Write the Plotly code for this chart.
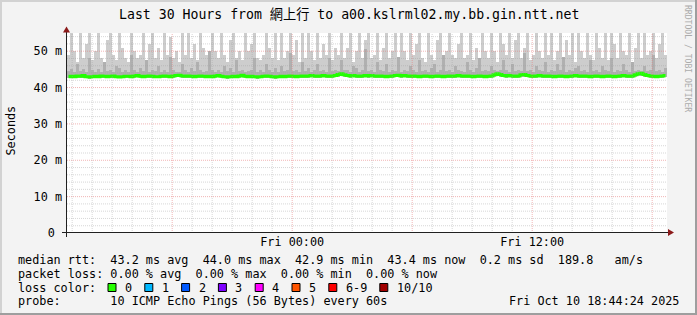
import pandas as pd
import plotly.graph_objects as go

# ---------------- data ----------------
title_text = "Last 30 Hours from 網上行 to a00.kslrml02.my.bb.gin.ntt.net"
end_time = "2025-10-10 18:44:24"
span_hours = 30

# upper edge of the light smoke (ms), 200 bins over 30 h
smoke_max = [
    49, 55, 50, 47, 55, 48, 52, 55, 47.5, 50,
    55, 48, 47, 53, 55, 49, 47.5, 55, 51, 48,
    47, 55, 50, 48, 49, 55, 47.5, 52, 55, 48,
    51, 47.5, 55, 49, 54, 48, 50, 47, 55, 49,
    55, 48, 52, 47.5, 55, 51, 49, 48, 55, 50,
    48, 55, 49, 47, 53, 55, 48, 50, 47.5, 55,
    50, 52, 55, 48, 47.5, 49, 55, 51, 48, 55,
    47.5, 55, 48, 50, 55, 49, 53, 47, 55, 48,
    55, 50, 47.5, 55, 48, 52, 49, 55, 47.5, 51,
    49, 55, 48, 51, 55, 47, 50, 55, 48, 53,
    55, 48, 49, 55, 47.5, 51, 55, 48, 50, 55,
    48, 55, 50, 47.5, 55, 49, 52, 55, 48, 47,
    55, 49, 47.5, 53, 55, 48, 50, 55, 49, 48,
    52, 55, 48, 49, 55, 47.5, 51, 48, 55, 50,
    48, 55, 50, 47, 55, 52, 49, 55, 48, 53,
    55, 48, 51, 55, 47.5, 49, 55, 50, 48, 55,
    49, 55, 47.5, 50, 55, 48, 53, 49, 55, 47,
    55, 50, 48, 55, 49, 47.5, 55, 51, 48, 55,
    47.5, 55, 52, 48, 55, 50, 49, 55, 47, 51,
    55, 48, 55, 49, 50, 55, 48, 52, 55, 49,
]
# upper edge of the darker inner smoke (ms)
smoke_mid = [
    44.5, 45.0, 44.2, 46.5, 44.6, 45.2, 44.3, 48.0, 44.8, 44.4,
    45.0, 44.3, 47.0, 44.5, 44.9, 44.2, 46.0, 45.3, 44.4, 44.8,
    44.4, 49.0, 44.8, 44.2, 45.4, 44.5, 47.5, 44.3, 44.9, 44.5,
    46.0, 44.4, 44.8, 44.2, 48.5, 44.9, 44.4, 44.2, 46.5, 44.8,
    44.2, 45.4, 44.5, 47.0, 44.9, 44.3, 44.5, 50.0, 44.8, 44.4,
    44.9, 44.2, 46.0, 44.5, 45.3, 44.2, 47.5, 44.5, 44.9, 44.3,
    44.5, 44.9, 48.0, 44.2, 44.9, 44.4, 46.5, 44.9, 44.3, 45.4,
    44.2, 46.0, 44.5, 44.9, 49.5, 44.5, 44.9, 44.2, 47.0, 44.5,
    45.4, 44.3, 44.9, 46.5, 44.5, 44.9, 44.2, 48.0, 44.5, 44.9,
    44.6, 47.5, 44.8, 44.9, 44.3, 46.0, 45.4, 44.3, 44.9, 50.5,
    44.5, 44.9, 44.2, 47.0, 44.9, 44.5, 46.5, 44.2, 44.9, 44.5,
    48.5, 44.2, 44.9, 44.5, 46.0, 44.9, 44.3, 47.5, 44.5, 44.9,
    44.2, 45.4, 46.5, 44.3, 44.9, 49.0, 44.5, 44.9, 44.2, 46.0,
    44.9, 44.5, 44.2, 47.0, 44.9, 44.3, 45.4, 48.0, 44.5, 44.9,
    44.5, 46.0, 44.9, 44.6, 44.7, 47.5, 44.9, 44.3, 46.5, 44.5,
    44.9, 44.6, 49.5, 44.5, 44.9, 44.2, 46.0, 44.9, 44.5, 47.0,
    44.2, 44.9, 44.5, 46.5, 44.9, 48.5, 44.3, 44.9, 44.5, 45.4,
    46.0, 44.5, 44.9, 44.2, 47.5, 44.5, 44.9, 44.3, 46.0, 44.9,
    44.5, 48.0, 44.2, 44.9, 44.5, 46.5, 44.9, 44.3, 47.0, 44.5,
    44.9, 44.6, 46.0, 44.5, 44.9, 49.0, 44.5, 44.9, 44.2, 45.4,
]
# lower edge of the smoke (ms)
smoke_min = [
    42.6, 42.5, 42.6, 42.7, 42.6, 42.5, 42.6, 42.4, 42.5, 42.6,
    42.6, 42.5, 42.7, 42.6, 42.6, 42.5, 42.6, 42.7, 42.6, 42.5,
    42.6, 42.6, 42.7, 42.8, 42.6, 42.5, 42.6, 42.7, 42.6, 42.5,
    42.5, 42.6, 42.7, 42.6, 42.5, 42.7, 42.8, 42.8, 42.7, 42.6,
    42.7, 42.6, 42.5, 42.6, 42.7, 42.6, 42.5, 42.6, 42.5, 42.7,
    42.8, 42.6, 42.5, 42.4, 42.5, 42.6, 42.5, 42.7, 42.8, 42.6,
    42.5, 42.6, 42.5, 42.4, 42.5, 42.6, 42.7, 42.6, 42.5, 42.4,
    42.5, 42.6, 42.5, 42.6, 42.7, 42.6, 42.5, 42.6, 42.7, 42.6,
    42.7, 42.8, 42.7, 42.6, 42.7, 42.8, 42.7, 42.6, 42.7, 42.8,
    43.0, 43.1, 42.9, 42.8, 42.7, 42.8, 42.7, 42.6, 42.7, 42.8,
    42.7, 42.8, 42.7, 42.6, 42.7, 42.6, 42.5, 42.6, 42.7, 42.8,
    42.9, 42.7, 42.8, 42.7, 42.6, 42.7, 42.6, 42.5, 42.6, 42.7,
    42.6, 42.5, 42.6, 42.7, 42.6, 42.5, 42.6, 42.7, 42.6, 42.7,
    42.8, 42.7, 42.6, 42.7, 42.6, 42.5, 42.6, 42.7, 42.6, 42.5,
    42.6, 42.7, 42.9, 43.1, 43.0, 42.8, 42.7, 42.8, 42.7, 42.6,
    42.7, 42.9, 43.0, 42.8, 42.7, 42.6, 42.7, 42.8, 42.7, 42.6,
    42.7, 42.6, 42.5, 42.6, 42.7, 42.6, 42.5, 42.6, 42.7, 42.8,
    42.7, 42.6, 42.7, 42.6, 42.5, 42.6, 42.7, 42.6, 42.5, 42.6,
    42.7, 42.6, 42.5, 42.6, 42.7, 42.8, 42.7, 42.6, 42.7, 42.9,
    43.1, 43.2, 43.0, 42.8, 42.7, 42.6, 42.5, 42.6, 42.7, 42.8,
]
# median round trip time (ms)
median_rtt = [
    43.0, 43.1, 43.0, 43.2, 43.1, 43.3, 43.0, 42.9, 43.0, 43.1,
    43.0, 43.2, 43.1, 43.0, 43.1, 43.2, 43.0, 42.9, 43.0, 43.1,
    43.1, 43.0, 43.2, 43.3, 43.1, 43.0, 43.1, 43.2, 43.1, 43.0,
    43.0, 43.1, 43.2, 43.1, 43.0, 43.2, 43.3, 43.4, 43.2, 43.1,
    43.2, 43.1, 43.0, 43.1, 43.2, 43.1, 43.0, 43.1, 43.0, 43.2,
    43.3, 43.1, 43.0, 42.9, 43.0, 43.1, 43.0, 43.2, 43.4, 43.1,
    43.0, 43.1, 43.0, 42.9, 43.0, 43.1, 43.2, 43.1, 43.0, 42.9,
    43.0, 43.1, 43.0, 43.1, 43.2, 43.1, 43.0, 43.1, 43.2, 43.1,
    43.2, 43.3, 43.2, 43.1, 43.2, 43.3, 43.2, 43.1, 43.2, 43.3,
    43.6, 43.8, 43.5, 43.3, 43.2, 43.3, 43.2, 43.1, 43.2, 43.3,
    43.2, 43.3, 43.2, 43.1, 43.2, 43.1, 43.0, 43.1, 43.2, 43.3,
    43.4, 43.2, 43.3, 43.2, 43.1, 43.2, 43.1, 43.0, 43.1, 43.2,
    43.1, 43.0, 43.1, 43.2, 43.1, 43.0, 43.1, 43.2, 43.1, 43.2,
    43.3, 43.2, 43.1, 43.2, 43.1, 43.0, 43.1, 43.2, 43.1, 43.0,
    43.1, 43.2, 43.5, 43.8, 43.6, 43.3, 43.2, 43.3, 43.2, 43.1,
    43.2, 43.5, 43.6, 43.3, 43.2, 43.1, 43.2, 43.3, 43.2, 43.1,
    43.2, 43.1, 43.0, 43.1, 43.2, 43.1, 43.0, 43.1, 43.2, 43.3,
    43.2, 43.1, 43.2, 43.1, 43.0, 43.1, 43.2, 43.1, 43.0, 43.1,
    43.2, 43.1, 43.0, 43.1, 43.2, 43.3, 43.2, 43.1, 43.2, 43.5,
    43.8, 43.9, 43.6, 43.3, 43.2, 43.1, 43.0, 43.1, 43.2, 43.3,
]

y_tick_vals = [0, 10, 20, 30, 40, 50]
y_tick_text = ["0\u00a0", "10 m", "20 m", "30 m", "40 m", "50 m"]
x_tick_vals = ["2025-10-09 18:00", "2025-10-10 00:00", "2025-10-10 06:00", "2025-10-10 12:00"]
x_tick_text = ["", "Fri 00:00", "", "Fri 12:00"]

rtt_stats = [43.2, 44.0, 42.9, 43.4]      # avg, max, min, now
rtt_sd = 0.2
rtt_ams = 189.8
loss_stats = [0.00, 0.00, 0.00, 0.00]     # avg, max, min, now
loss_labels = ["0", "1", "2", "3", "4", "5", "6-9", "10/10"]
loss_colors = ["#26ff00", "#00b8ff", "#0059ff", "#7e00ff", "#ff00ff", "#ff5500", "#ff0000", "#a10000"]
probe_text = "10 ICMP Echo Pings (56 Bytes) every 60s"
stamp_text = "Fri Oct 10 18:44:24 2025"
watermark = "RRDTOOL / TOBI OETIKER"

# ---------------- geometry helpers ----------------
W, H = 697, 315
L, T, PW, PH = 67, 33, 600, 200
R, B = W - L - PW, H - T - PH


def px(x):
    return (x - L) / PW


def py(y):
    return (T + PH - y) / PH


MONO = "DejaVu Sans Mono"
FS = 11.8
CW = 7.1  # char advance at FS

end = pd.Timestamp(end_time)
start = end - pd.Timedelta(hours=span_hours)
n = len(smoke_max)
bin_w = (end - start) / n
centers = [start + bin_w * (i + 0.5) for i in range(n)]
bin_ms = bin_w.total_seconds() * 1000

fig = go.Figure()
fig.add_trace(go.Bar(
    x=centers, y=[a - b for a, b in zip(smoke_max, smoke_min)], base=smoke_min,
    width=bin_ms, marker=dict(color="#cdcdcd", line=dict(width=0)), hoverinfo="skip"))
fig.add_trace(go.Bar(
    x=centers, y=[a - b for a, b in zip(smoke_mid, smoke_min)], base=smoke_min,
    width=bin_ms, marker=dict(color="#b0b0b0", line=dict(width=0)), hoverinfo="skip"))
fig.add_trace(go.Scatter(
    x=centers, y=median_rtt, mode="lines",
    line=dict(color="#22ff00", width=3, shape="hvh"), hoverinfo="skip"))

shapes = []
# grid (drawn above the smoke, like rrdtool)
GRID = "rgba(160,160,160,0.42)"
MGRID = "rgba(228,120,120,0.55)"
for t in pd.date_range(start.ceil("h"), end, freq="h"):
    major = t.hour % 6 == 0
    shapes.append(dict(type="line", xref="x", yref="paper", x0=t, x1=t, y0=0, y1=1,
                       line=dict(color=MGRID if major else GRID, width=1, dash="1px,1px"),
                       layer="above"))
for v in range(2, 55, 2):
    major = v % 10 == 0
    shapes.append(dict(type="line", xref="paper", yref="y", x0=0, x1=1, y0=v, y1=v,
                       line=dict(color=MGRID if major else GRID, width=1, dash="1px,1px"),
                       layer="above"))
# axes
AX = "#202020"
shapes.append(dict(type="line", xref="paper", yref="paper", x0=px(62), x1=px(668),
                   y0=py(232.5), y1=py(232.5), line=dict(color=AX, width=1), layer="above"))
shapes.append(dict(type="line", xref="paper", yref="paper", x0=px(66.5), x1=px(66.5),
                   y0=py(237), y1=py(30), line=dict(color=AX, width=1), layer="above"))
ARW = "#8b1a1a"
shapes.append(dict(type="path", xref="paper", yref="paper", layer="above",
                   path=f"M{px(66.5)},{py(26.5)} L{px(63)},{py(32.5)} L{px(70)},{py(32.5)} Z",
                   fillcolor=ARW, line=dict(color=ARW, width=0)))
shapes.append(dict(type="path", xref="paper", yref="paper", layer="above",
                   path=f"M{px(674)},{py(232.5)} L{px(668)},{py(229)} L{px(668)},{py(236)} Z",
                   fillcolor=ARW, line=dict(color=ARW, width=0)))
# frame shading
for (x0, y0, x1, y1, c) in [(0, 0, W, 2, "#d2d2d2"), (0, 0, 2, H, "#d2d2d2"),
                            (0, H - 2, W, H, "#9e9e9e"), (W - 2, 0, W, H, "#9e9e9e")]:
    shapes.append(dict(type="rect", xref="paper", yref="paper", x0=px(x0), x1=px(x1),
                       y0=py(y1), y1=py(y0), fillcolor=c, line=dict(width=0), layer="above"))

annotations = []


def text(x, y, s, anchor="left", size=FS, color="#000", angle=0, family=MONO):
    annotations.append(dict(x=px(x), y=py(y), xref="paper", yref="paper", text=s.replace(" ", "\u00a0"),
                            showarrow=False, xanchor=anchor, yanchor="middle", textangle=angle,
                            font=dict(family=family, size=size, color=color)))


text(348.5, 15, title_text, anchor="center", size=13.2,
     family="DejaVu Sans Mono, Noto Sans CJK TC")
text(10.5, 131, "Seconds", anchor="center", angle=-90)
text(688, 58, watermark, anchor="center", size=8.1, color="#ababab", angle=90)

a, mx, mn, nw = rtt_stats
row1 = (f"median rtt:  {a:.1f} ms avg  {mx:.1f} ms max  {mn:.1f} ms min  "
        f"{nw:.1f} ms now  {rtt_sd:.1f} ms sd  {rtt_ams:.1f}   am/s")
la, lmx, lmn, lnw = loss_stats
row2 = f"packet loss: {la:.2f} % avg  {lmx:.2f} % max  {lmn:.2f} % min  {lnw:.2f} % now"
text(15.5, 260, row1)
text(15.5, 273.5, row2)
text(15.5, 287.5, "loss color:")
bx = 108.0
for lab, col in zip(loss_labels, loss_colors):
    shapes.append(dict(type="rect", xref="paper", yref="paper", x0=px(bx), x1=px(bx + 8),
                       y0=py(291.5), y1=py(283.5), fillcolor=col,
                       line=dict(color="#000", width=1), layer="above"))
    text(bx + 15, 287.5, lab)
    bx += 15 + len(lab) * CW + 14.7
text(15.5, 301, "probe:".ljust(13) + probe_text)
text(680.5, 301, stamp_text, anchor="right")

fig.update_layout(
    width=W, height=H, margin=dict(l=L, r=R, t=T, b=B, pad=0),
    paper_bgcolor="#f3f3f3", plot_bgcolor="#ffffff",
    barmode="overlay", bargap=0, showlegend=False,
    shapes=shapes, annotations=annotations,
    xaxis=dict(type="date", range=[start, end], showgrid=False, zeroline=False, showline=False,
               tickmode="array", tickvals=x_tick_vals, ticktext=x_tick_text, ticks="",
               tickfont=dict(family=MONO, size=FS, color="#000"), fixedrange=True),
    yaxis=dict(range=[0, 55], showgrid=False, zeroline=False, showline=False,
               tickmode="array", tickvals=y_tick_vals, ticktext=y_tick_text, ticks="",
               ticklabelstandoff=4,
               tickfont=dict(family=MONO, size=FS, color="#000"), fixedrange=True),
)

fig.write_html("out.html", config={"displayModeBar": False, "staticPlot": True})
